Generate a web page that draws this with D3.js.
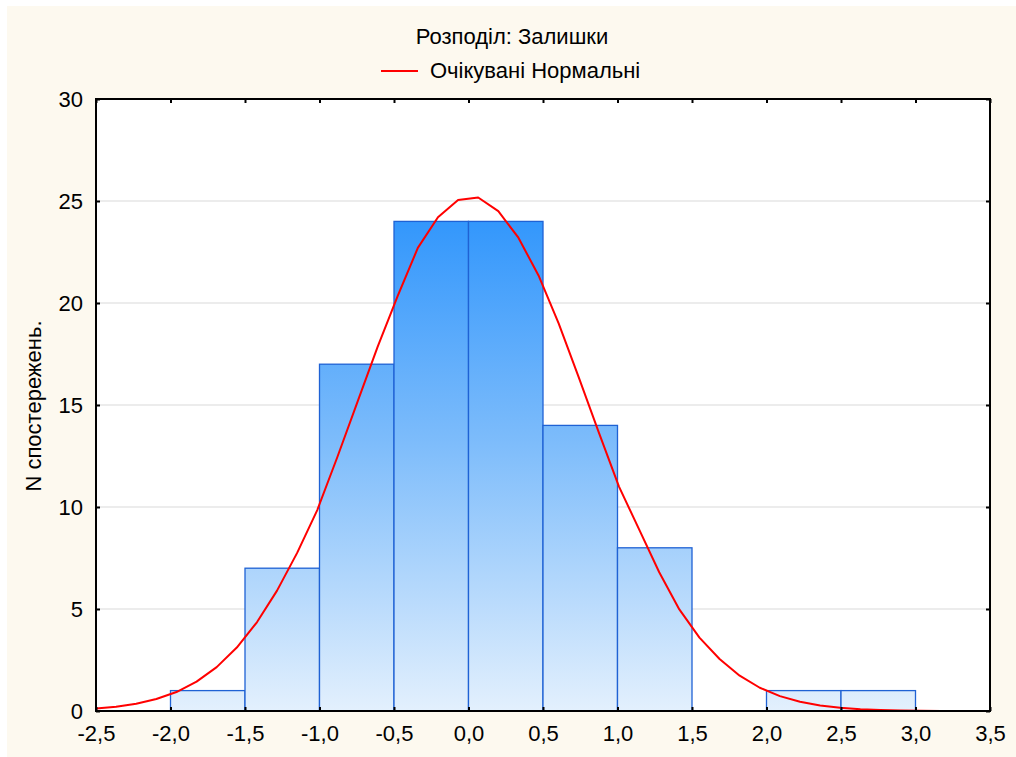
<!DOCTYPE html>
<html>
<head>
<meta charset="utf-8">
<script src="https://cdn.jsdelivr.net/npm/d3@7/dist/d3.min.js"></script>
<style>
  html, body { margin: 0; padding: 0; background: #ffffff; }
  svg { display: block; }
  text { font-family: "Liberation Sans", Arial, sans-serif; fill: #000; }
</style>
</head>
<body>
<svg id="chart" width="1016" height="757"></svg>
<script>
// Histogram bins of the residuals (lower edge, upper edge, count)
const binStart = [-2.0, -1.5, -1.0, -0.5, 0.0, 0.5, 1.0, 1.5, 2.0, 2.5];
const binEnd   = [-1.5, -1.0, -0.5, 0.0, 0.5, 1.0, 1.5, 2.0, 2.5, 3.0];
const counts   = [1, 7, 17, 24, 24, 14, 8, 0, 1, 1];

// Expected normal curve vertices
const curveX = [-2.5, -2.365, -2.23, -2.095, -1.96, -1.825, -1.69, -1.555, -1.42, -1.285,
                -1.15, -1.015, -0.88, -0.745, -0.61, -0.475, -0.34, -0.205, -0.07, 0.065,
                0.2, 0.335, 0.47, 0.605, 0.74, 0.875, 1.01, 1.145, 1.28, 1.415,
                1.55, 1.685, 1.82, 1.955, 2.09, 2.225, 2.36, 2.495, 2.63, 2.765,
                2.9, 3.035, 3.17, 3.305, 3.44, 3.5];
const curveY = [0.12, 0.21, 0.36, 0.59, 0.93, 1.44, 2.15, 3.11, 4.35, 5.9,
                7.75, 9.85, 12.45, 15.15, 17.85, 20.35, 22.7, 24.2, 25.05, 25.17,
                24.5, 23.2, 21.35, 19.0, 16.35, 13.65, 11.0, 8.9, 6.8, 4.98,
                3.6, 2.55, 1.73, 1.14, 0.73, 0.45, 0.27, 0.16, 0.09, 0.05,
                0.025, 0.013, 0.006, 0.003, 0.001, 0.001];

const xTicks = [-2.5, -2.0, -1.5, -1.0, -0.5, 0.0, 0.5, 1.0, 1.5, 2.0, 2.5, 3.0, 3.5];
const yTicks = [0, 5, 10, 15, 20, 25, 30];

const titleText  = "Розподіл: Залишки";
const legendText = "Очікувані Нормальні";
const yAxisTitle = "N спостережень.";

const svg = d3.select("#chart");
const W = 1016, H = 757;
const plot = { left: 96, right: 990, top: 99, bottom: 711 };
const FONT = 22;

const x = d3.scaleLinear().domain([-2.5, 3.5]).range([plot.left, plot.right]);
const y = d3.scaleLinear().domain([0, 30]).range([plot.bottom, plot.top]);
const fmt = v => d3.format(".1f")(v).replace(".", ",").replace("−", "-");

// Page background
svg.append("rect").attr("x", 7).attr("y", 6).attr("width", W - 7).attr("height", H - 6)
  .attr("fill", "#fdf9ef");

// Plot area
svg.append("rect")
  .attr("x", plot.left).attr("y", plot.top)
  .attr("width", plot.right - plot.left).attr("height", plot.bottom - plot.top)
  .attr("fill", "#ffffff");

// Horizontal grid
svg.append("g")
  .selectAll("line")
  .data(yTicks.filter(t => t > 0 && t < 30))
  .join("line")
  .attr("x1", plot.left).attr("x2", plot.right)
  .attr("y1", d => y(d)).attr("y2", d => y(d))
  .attr("stroke", "#d9d9d9").attr("stroke-width", 1);

// Bar gradient, shared across the plot height
const defs = svg.append("defs");
const grad = defs.append("linearGradient")
  .attr("id", "barFill").attr("gradientUnits", "userSpaceOnUse")
  .attr("x1", 0).attr("x2", 0)
  .attr("y1", y(24)).attr("y2", y(0));
grad.append("stop").attr("offset", "0%").attr("stop-color", "#3397fc");
grad.append("stop").attr("offset", "45%").attr("stop-color", "#7dbcfb");
grad.append("stop").attr("offset", "100%").attr("stop-color", "#e3f0fd");

const bins = counts.map((c, i) => ({ x0: binStart[i], x1: binEnd[i], n: c })).filter(d => d.n > 0);

svg.append("g")
  .selectAll("rect")
  .data(bins)
  .join("rect")
  .attr("x", d => x(d.x0))
  .attr("y", d => y(d.n))
  .attr("width", d => x(d.x1) - x(d.x0))
  .attr("height", d => y(0) - y(d.n))
  .attr("fill", "url(#barFill)")
  .attr("stroke", "#1f62d4")
  .attr("stroke-width", 1.3);

// Expected normal curve
const line = d3.line().x(d => x(d[0])).y(d => y(d[1]));
svg.append("path")
  .datum(curveX.map((v, i) => [v, curveY[i]]))
  .attr("d", line)
  .attr("fill", "none")
  .attr("stroke", "#ff0000")
  .attr("stroke-width", 2)
  .attr("stroke-linejoin", "round");

// Axes
const bottomAxis = d3.axisBottom(x).tickValues(xTicks).tickSize(-4).tickPadding(14).tickFormat(fmt);
const leftAxis = d3.axisLeft(y).tickValues(yTicks).tickSize(-4).tickPadding(13).tickFormat(d3.format("d"));
const topAxis = d3.axisTop(x).tickValues(xTicks).tickSize(-4).tickFormat("");
const rightAxis = d3.axisRight(y).tickValues(yTicks).tickSize(-4).tickFormat("");

function styleAxis(g) {
  g.select(".domain").remove();
  g.selectAll(".tick line").attr("stroke", "#000").attr("stroke-width", 2);
  g.selectAll(".tick text").attr("font-size", FONT).attr("fill", "#000")
    .attr("font-family", "'Liberation Sans', Arial, sans-serif");
}

svg.append("g").attr("transform", `translate(0,${plot.bottom})`).call(bottomAxis).call(styleAxis);
svg.append("g").attr("transform", `translate(${plot.left},0)`).call(leftAxis).call(styleAxis);
svg.append("g").attr("transform", `translate(0,${plot.top})`).call(topAxis).call(styleAxis);
svg.append("g").attr("transform", `translate(${plot.right},0)`).call(rightAxis).call(styleAxis);

// Frame
svg.append("rect")
  .attr("x", plot.left).attr("y", plot.top)
  .attr("width", plot.right - plot.left).attr("height", plot.bottom - plot.top)
  .attr("fill", "none").attr("stroke", "#000").attr("stroke-width", 2);

// Title and legend
svg.append("text")
  .attr("x", 512).attr("y", 44)
  .attr("text-anchor", "middle")
  .attr("font-size", FONT)
  .text(titleText);

svg.append("line")
  .attr("x1", 381).attr("x2", 418).attr("y1", 71).attr("y2", 71)
  .attr("stroke", "#ff0000").attr("stroke-width", 2);
svg.append("text")
  .attr("x", 430).attr("y", 78)
  .attr("font-size", FONT)
  .text(legendText);

// Y axis title
svg.append("text")
  .attr("transform", `translate(41,406) rotate(-90)`)
  .attr("text-anchor", "middle")
  .attr("font-size", FONT)
  .text(yAxisTitle);
</script>
</body>
</html>
